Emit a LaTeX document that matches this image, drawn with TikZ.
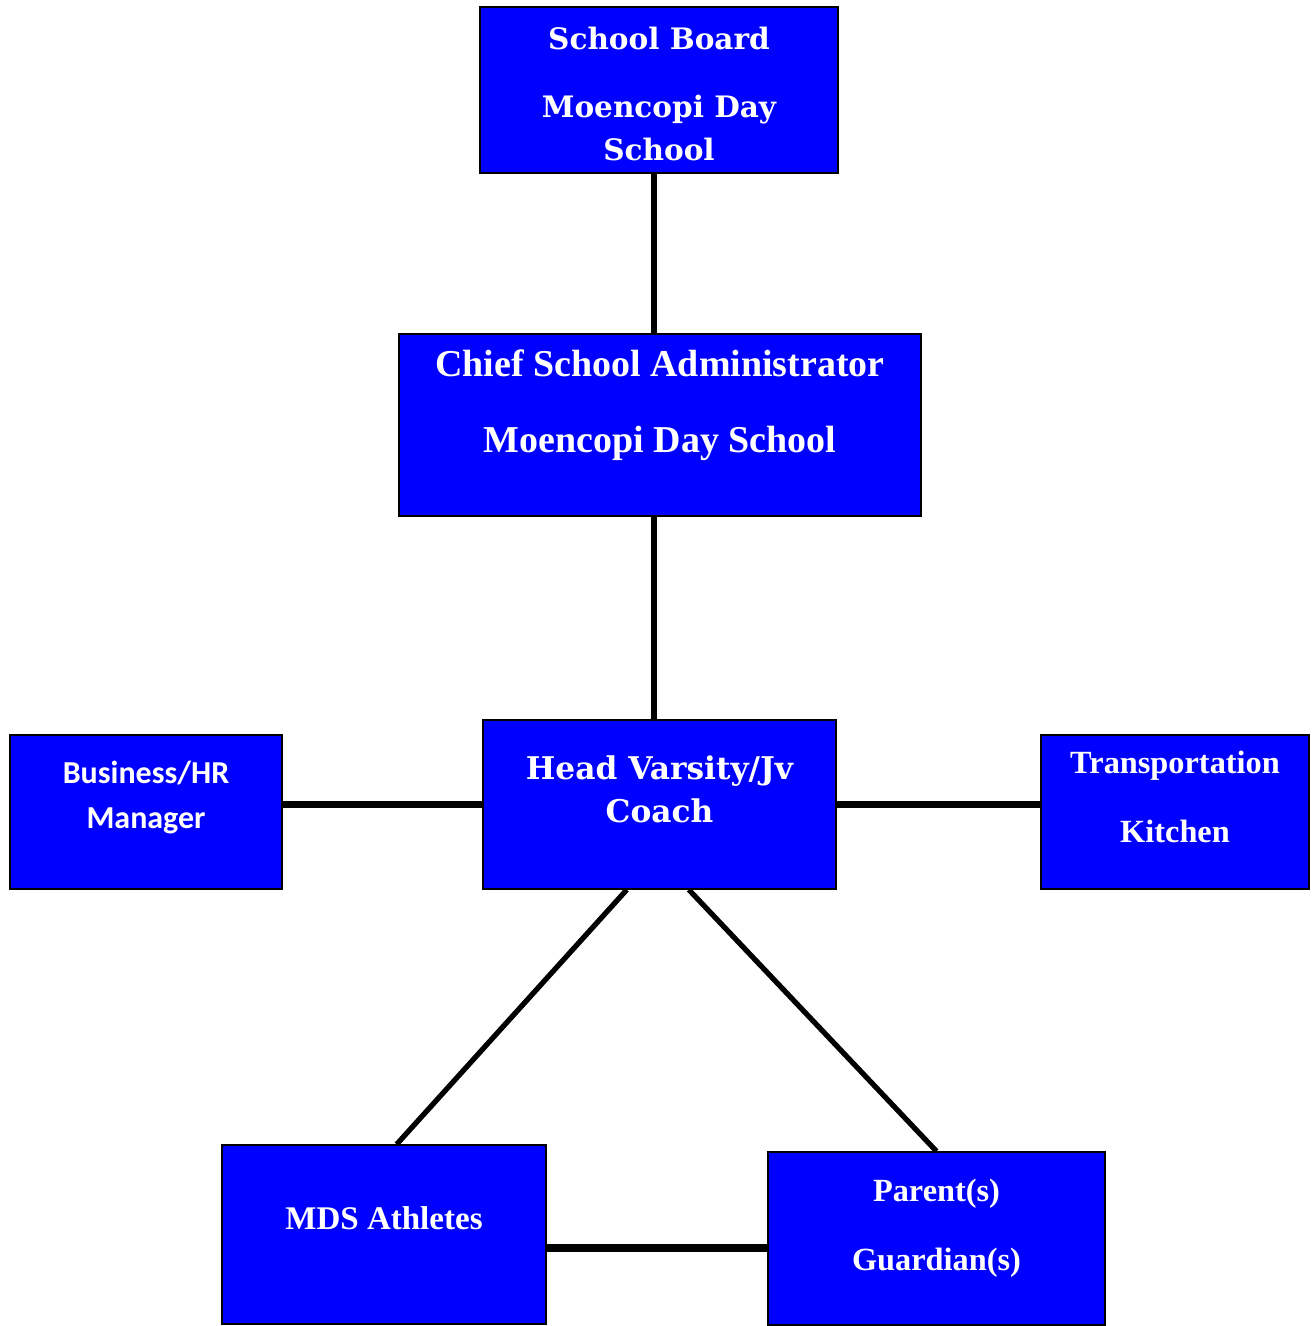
\documentclass[tikz,border=0pt]{standalone}
\usepackage{fontspec}
\setmainfont{Liberation Serif}
\newfontfamily\wideserif{DejaVu Serif}
\newfontfamily\calfont{Carlito}
\usetikzlibrary{calc}

% box text: width, height, space above, text
\newcommand{\boxtext}[4]{\parbox[c][#2][t]{#1}{\centering\vspace*{#3}#4\par}}

\begin{document}
\begin{tikzpicture}[
      orgbox/.style={draw=black, line width=0.4pt, fill=blue, text=white, inner sep=0pt},
      link/.style={line width=1.5pt},
      thicklink/.style={line width=2pt}
    ]
      \useasboundingbox (0,0) rectangle (13.12,-13.26);
      \node[orgbox] (board) at (6.59,-0.90) {\boxtext{3.58cm}{1.66cm}{5.6pt}{\wideserif\bfseries\fontsize{8.4}{12.2}\selectfont School Board\\[7.4pt] Moencopi Day\\ School}};
      \node[orgbox] (chief) at (6.60,-4.25) {\boxtext{5.22cm}{1.82cm}{4.5pt}{\bfseries\fontsize{10.8}{21.6}\selectfont Chief School Administrator\\ Moencopi Day School}};
      \node[orgbox] (coach) at (6.595,-8.045) {\boxtext{3.53cm}{1.69cm}{10.1pt}{\wideserif\bfseries\fontsize{8.9}{12.2}\selectfont Head Varsity/Jv\\ Coach}};
      \node[orgbox] (business) at (1.46,-8.12) {\boxtext{2.72cm}{1.54cm}{7.5pt}{\calfont\bfseries\fontsize{9.1}{12.8}\selectfont Business/HR\\ Manager}};
      \node[orgbox] (transport) at (11.75,-8.12) {\boxtext{2.68cm}{1.54cm}{4.5pt}{\bfseries\fontsize{9.2}{19.6}\selectfont Transportation\\ Kitchen}};
      \node[orgbox] (athletes) at (3.84,-12.345) {\boxtext{3.24cm}{1.79cm}{17.6pt}{\bfseries\fontsize{9.4}{12}\selectfont MDS Athletes}};
      \node[orgbox] (parents) at (9.365,-12.385) {\boxtext{3.37cm}{1.73cm}{7.6pt}{\bfseries\fontsize{9.2}{19.6}\selectfont Parent(s)\\ Guardian(s)}};
      \draw[link] ([xshift=-0.05cm]board.south) -- ([xshift=-0.05cm]board.south |- chief.north);
      \draw[link] ([xshift=-0.06cm]chief.south) -- ([xshift=-0.06cm]chief.south |- coach.north);
      \draw[thicklink] (coach.west) -- (coach.west -| business.east);
      \draw[thicklink] (coach.east) -- (coach.east -| transport.west);
      \draw[link] (coach.-111) -- (athletes.82);
      \draw[link] (coach.-71) -- (parents.north);
      \draw[thicklink] ([yshift=-0.135cm]athletes.east) -- ([yshift=-0.135cm]athletes.east -| parents.west);
    \end{tikzpicture}
\end{document}
